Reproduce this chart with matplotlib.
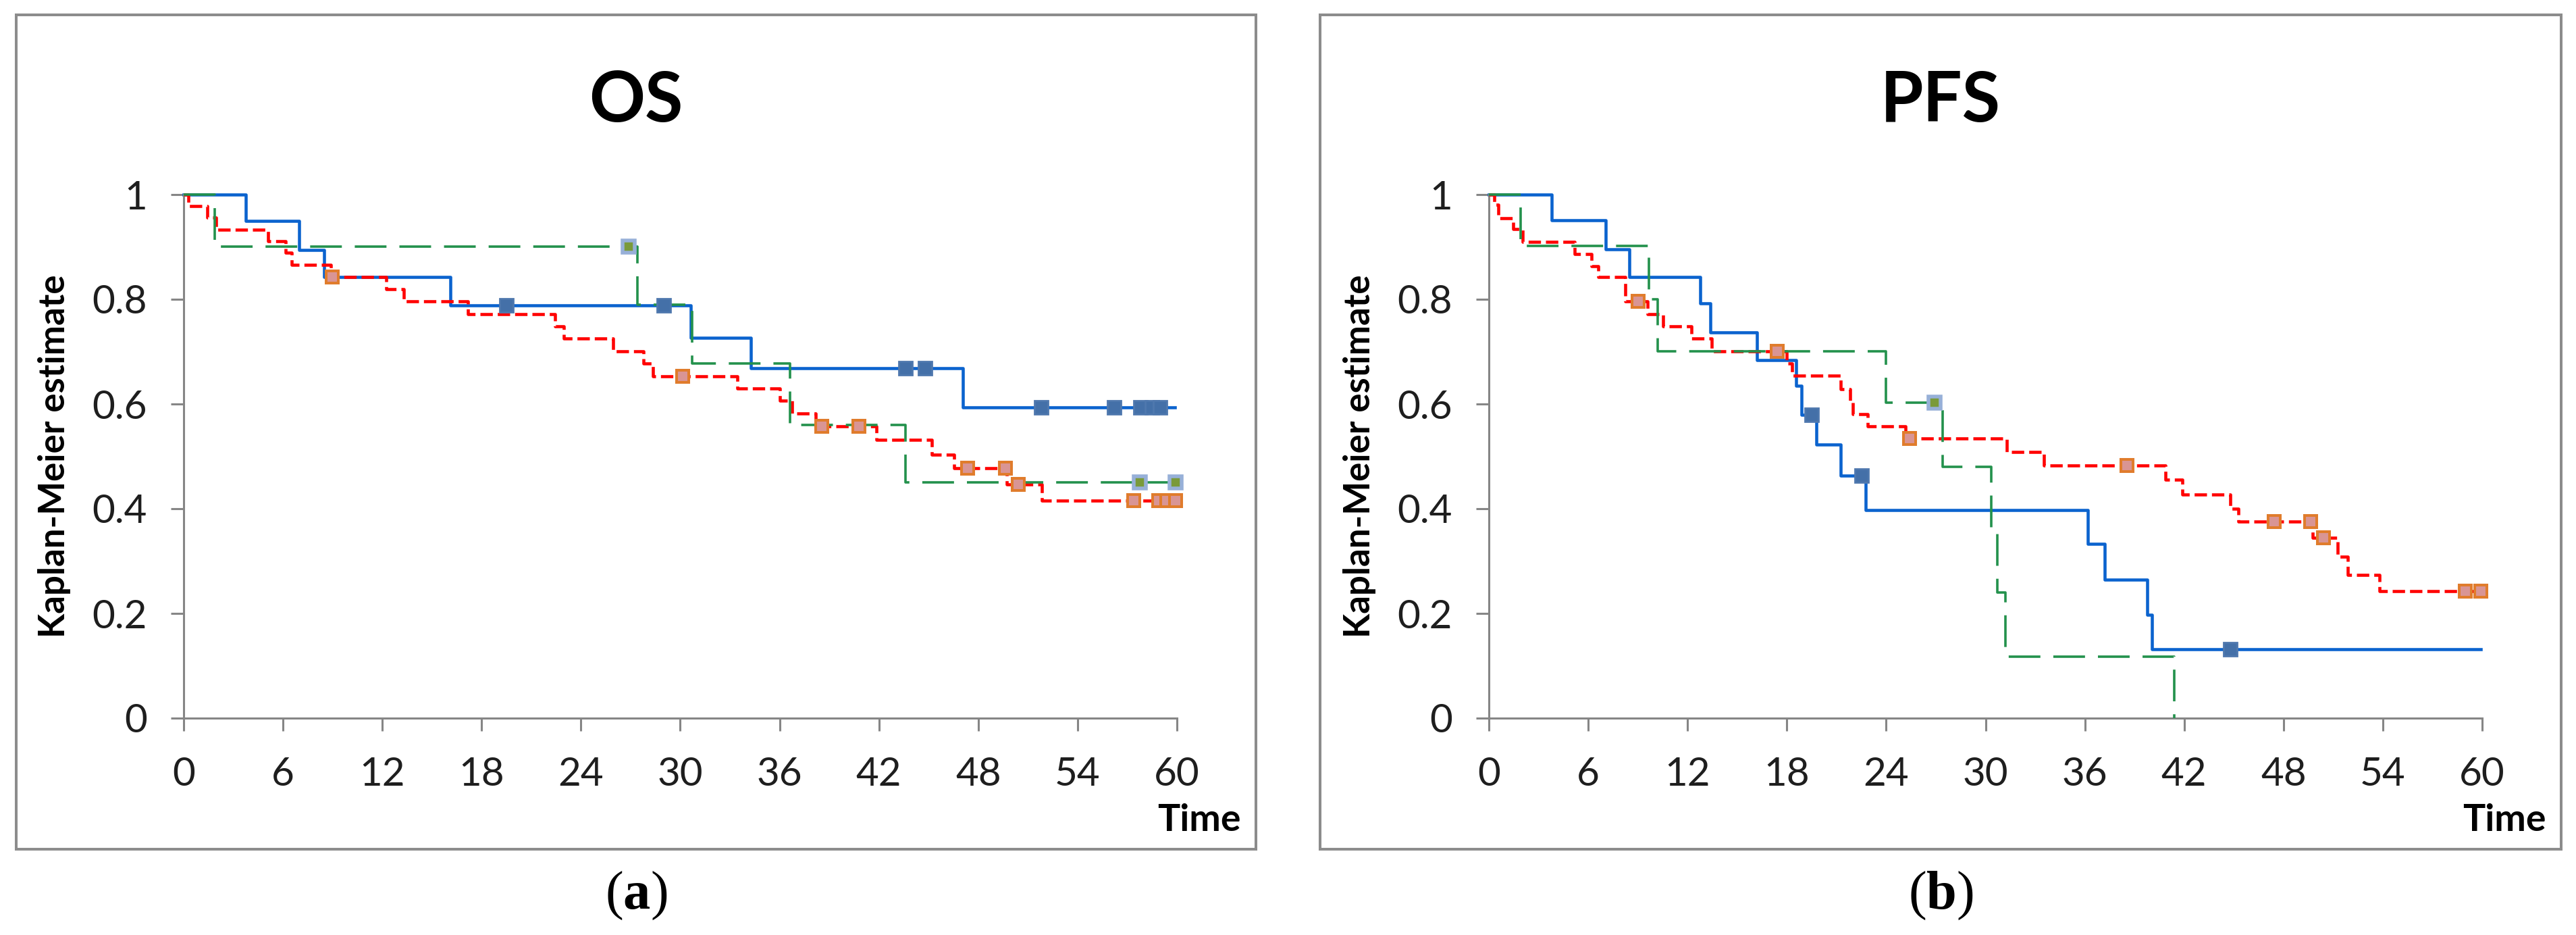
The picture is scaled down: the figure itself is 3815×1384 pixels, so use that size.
import matplotlib.pyplot as plt
from matplotlib.patches import Rectangle

# ---------------- OS: step times (months) and survival level after each step
os_blue_t = [0, 3.75, 6.99, 8.48, 16.1, 30.64, 34.25, 47.09, 59.87]
os_blue_s = [1, 0.950, 0.894, 0.842, 0.789, 0.727, 0.668, 0.594, 0.594]
os_blue_ct = [19.5, 29.0, 43.6, 44.8, 51.8, 56.2, 57.8, 58.5, 59.0]
os_blue_cs = [0.789, 0.789, 0.668, 0.668, 0.594, 0.594, 0.594, 0.594, 0.594]

os_red_t = [0, 0.30, 1.41, 1.96, 5.09, 6.16, 6.51, 8.89, 12.22, 13.30, 17.17,
            22.42, 22.96, 25.95, 27.77, 28.33, 33.43, 36.0, 36.76, 38.19,
            41.86, 45.19, 46.55, 49.74, 51.85, 59.9]
os_red_s = [1, 0.978, 0.956, 0.933, 0.911, 0.889, 0.866, 0.843, 0.819, 0.796,
            0.772, 0.748, 0.725, 0.701, 0.677, 0.653, 0.630, 0.606, 0.582,
            0.558, 0.531, 0.503, 0.478, 0.447, 0.415, 0.415]
os_red_ct = [8.97, 30.13, 38.53, 40.8, 47.36, 49.65, 50.4, 57.4, 58.9, 59.4, 59.9]
os_red_cs = [0.843, 0.653, 0.558, 0.558, 0.478, 0.478, 0.447, 0.415, 0.415,
             0.415, 0.415]

os_green_t = [0, 1.89, 27.4, 30.71, 36.62, 43.62, 59.9]
os_green_s = [1, 0.901, 0.790, 0.677, 0.560, 0.450, 0.450]
os_green_ct = [26.9, 57.75, 59.9]
os_green_cs = [0.901, 0.450, 0.450]

# ---------------- PFS
pfs_blue_t = [0, 3.78, 7.04, 8.5, 12.78, 13.39, 16.18, 18.56, 18.89, 19.78,
              21.27, 22.77, 36.16, 37.2, 39.78, 40.06, 59.9]
pfs_blue_s = [1, 0.951, 0.895, 0.843, 0.792, 0.737, 0.684, 0.635, 0.579, 0.523,
              0.463, 0.397, 0.333, 0.265, 0.198, 0.131, 0.131]
pfs_blue_ct = [19.5, 22.5, 44.8]
pfs_blue_cs = [0.579, 0.463, 0.131]

pfs_red_t = [0, 0.34, 0.58, 1.46, 2.04, 5.17, 6.19, 6.59, 8.22, 9.58, 10.53,
             12.23, 13.46, 18.0, 18.3, 21.27, 21.82, 22.0, 22.9, 25.15, 31.27,
             33.51, 40.86, 41.9, 44.78, 45.28, 49.77, 51.26, 51.88, 53.81, 59.92]
pfs_red_s = [1, 0.981, 0.955, 0.934, 0.910, 0.886, 0.863, 0.843, 0.796, 0.772,
             0.749, 0.725, 0.701, 0.678, 0.654, 0.628, 0.605, 0.581, 0.557,
             0.534, 0.508, 0.483, 0.456, 0.427, 0.400, 0.376, 0.344, 0.309,
             0.273, 0.242, 0.242]
pfs_red_ct = [9.03, 17.4, 25.4, 38.56, 47.44, 49.65, 50.43, 58.97, 59.92]
pfs_red_cs = [0.796, 0.701, 0.534, 0.483, 0.376, 0.376, 0.344, 0.242, 0.242]

pfs_green_t = [0, 1.9, 9.65, 10.2, 23.99, 27.42, 30.35, 30.7, 31.2, 41.41]
pfs_green_s = [1, 0.902, 0.80, 0.701, 0.602, 0.480, 0.36, 0.24, 0.118, 0.0]
pfs_green_ct = [26.92]
pfs_green_cs = [0.602]

x_ticks = list(range(0, 61, 6))
y_ticks = [0, 0.2, 0.4, 0.6, 0.8, 1.0]
y_tick_labels = ["0", "0.2", "0.4", "0.6", "0.8", "1"]

# --- layout in pixels of the 3815x1384 picture
W, H = 3815, 1384
AX_W, AX_TOP, AX_BOT = 1471, 288, 1063
GRAY = "#868686"

plt.rcParams["font.family"] = ["Lato", "DejaVu Sans"]
plt.rcParams["mathtext.fontset"] = "custom"
plt.rcParams["mathtext.rm"] = "Liberation Serif"
plt.rcParams["mathtext.bf"] = "Liberation Serif:bold"

fig = plt.figure(figsize=(W / 100, H / 100), dpi=100)


def draw_panel(ax_left, frame, title, caption, blue, red, green):
    ax = fig.add_axes([ax_left / W, 1 - AX_BOT / H, AX_W / W,
                       (AX_BOT - AX_TOP) / H])

    # рамка вокруг диаграммы
    fx0, fx1 = frame
    fig.patches.append(Rectangle((fx0 / W, 1 - 1257 / H), (fx1 - fx0) / W,
                                 (1257 - 22) / H, transform=fig.transFigure,
                                 fill=False, ec="#8c8c8c", lw=2.9))
    cx = (fx0 + fx1) / 2 / W
    fig.text(cx, 1 - 180 / H, title, ha="center", va="baseline",
             fontsize=74, fontweight="bold")
    fig.text(cx, 1 - 1345 / H, r"($\mathbf{" + caption + "}$)",
             ha="center", va="baseline", fontsize=58,
             family="Liberation Serif")

    bt, bs, bct, bcs = blue
    rt, rs, rct, rcs = red
    gt, gs, gct, gcs = green

    ax.step(bt, bs, where="post", color="#0b63ce", lw=3.3, zorder=2,
            clip_on=False, solid_joinstyle="round")
    ax.step(rt, rs, where="post", color="#ff0000", lw=3.3, zorder=3,
            clip_on=False, dashes=(4.0, 1.6))
    ax.step(gt, gs, where="post", color="#23914c", lw=2.6, zorder=4,
            clip_on=False, dashes=(13.0, 5.3))

    ax.plot(bct, bcs, ls="none", marker="s", ms=14.4, mfc="#4470a8",
            mec="#4f78ae", mew=2.0, zorder=6, clip_on=False)
    ax.plot(rct, rcs, ls="none", marker="s", ms=13.6, mfc="#d99594",
            mec="#e07c2c", mew=2.9, zorder=6, clip_on=False)
    ax.plot(gct, gcs, ls="none", marker="s", ms=12.4, mfc="#7a9a3a",
            mec="#97b0d8", mew=4.0, zorder=6, clip_on=False)

    ax.set_xlim(0, 60)
    ax.set_ylim(0, 1)
    ax.set_xticks(x_ticks)
    ax.set_yticks(y_ticks)
    ax.set_yticklabels(y_tick_labels)
    for side in ("top", "right"):
        ax.spines[side].set_visible(False)
    for side in ("left", "bottom"):
        ax.spines[side].set_color(GRAY)
        ax.spines[side].set_linewidth(2.2)
    ax.tick_params(direction="out", length=14, width=2.2, color=GRAY,
                   labelsize=42, labelcolor="#1e1e1e")
    ax.tick_params(axis="x", pad=27)
    ax.tick_params(axis="y", pad=25)

    ax.text(-192 / AX_W, 0.5, "Kaplan-Meier estimate", rotation=90,
            ha="center", va="center", transform=ax.transAxes,
            fontsize=38, fontweight="bold")
    ax.text(1 + 33 / AX_W, -(1230 - AX_BOT) / (AX_BOT - AX_TOP), "Time",
            ha="center", va="baseline", transform=ax.transAxes,
            fontsize=40, fontweight="bold")
    return ax


draw_panel(272, (24, 1860), "OS", "a",
           (os_blue_t, os_blue_s, os_blue_ct, os_blue_cs),
           (os_red_t, os_red_s, os_red_ct, os_red_cs),
           (os_green_t, os_green_s, os_green_ct, os_green_cs))
draw_panel(2205, (1955, 3793), "PFS", "b",
           (pfs_blue_t, pfs_blue_s, pfs_blue_ct, pfs_blue_cs),
           (pfs_red_t, pfs_red_s, pfs_red_ct, pfs_red_cs),
           (pfs_green_t, pfs_green_s, pfs_green_ct, pfs_green_cs))

fig.savefig("out.png", dpi=100)
plt.close(fig)
